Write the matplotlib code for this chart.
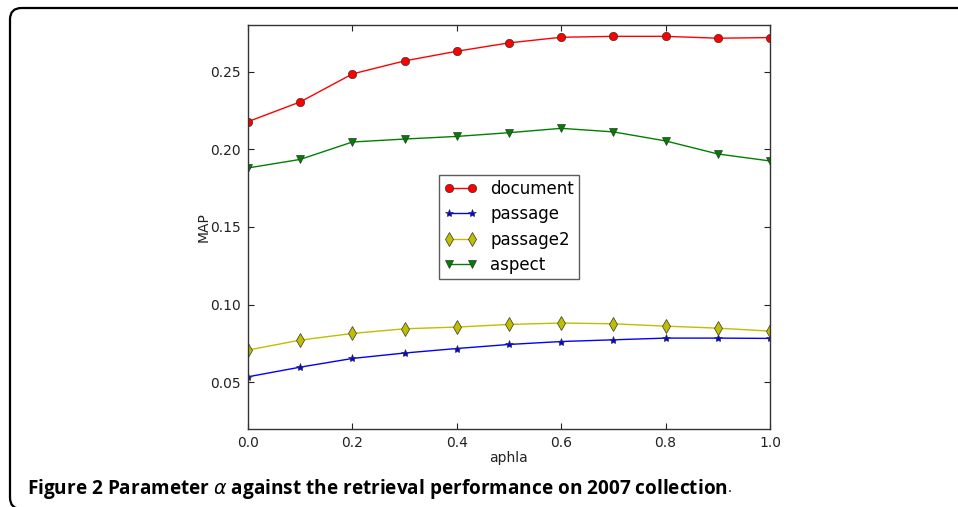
import matplotlib
matplotlib.use("Agg")
import matplotlib.pyplot as plt
from matplotlib.patches import FancyBboxPatch

alpha = [0.0, 0.1, 0.2, 0.3, 0.4, 0.5, 0.6, 0.7, 0.8, 0.9, 1.0]
document = [0.2178, 0.2305, 0.2485, 0.2569, 0.2631, 0.2685, 0.2721, 0.2727, 0.2727, 0.2715, 0.2719]
passage = [0.0536, 0.0598, 0.0654, 0.0689, 0.0718, 0.0744, 0.0763, 0.0774, 0.0785, 0.0785, 0.0783]
passage2 = [0.0708, 0.0772, 0.0815, 0.0845, 0.0856, 0.0873, 0.0882, 0.0877, 0.0862, 0.0849, 0.0830]
aspect = [0.1880, 0.1935, 0.2047, 0.2066, 0.2083, 0.2107, 0.2135, 0.2112, 0.2054, 0.1970, 0.1925]
xticks = [0.0, 0.2, 0.4, 0.6, 0.8, 1.0]
yticks = [0.05, 0.10, 0.15, 0.20, 0.25]

W, H = 958, 507
fig = plt.figure(figsize=(W / 100, H / 100), dpi=100)

# rounded frame
frame = FancyBboxPatch((10 / W, (H - 509) / H), (975 - 10) / W, (509 - 8) / H,
                       boxstyle="round,pad=0,rounding_size=0.012",
                       transform=fig.transFigure, fill=False, ec="black", lw=1.6,
                       mutation_aspect=W / H)
fig.patches.append(frame)

ax = fig.add_axes([248 / W, 1 - 429 / H, (770 - 248) / W, (429 - 25) / H])
ms = 6
ax.plot(alpha, document, color="red", marker="o", ms=ms, mec="#333333", mew=0.5, lw=1, label="document")
ax.plot(alpha, passage, color="blue", marker="*", ms=ms, mec="#333333", mew=0.5, lw=1, label="passage")
ax.plot(alpha, passage2, color=(0.75, 0.75, 0), marker="d", ms=ms + 1, mec="#333333", mew=0.5, lw=1, label="passage2")
ax.plot(alpha, aspect, color="green", marker="v", ms=ms, mec="#333333", mew=0.5, lw=1, label="aspect")

ax.set_xlim(0.0, 1.0)
ax.set_ylim(0.02, 0.28)
ax.set_xticks(xticks)
ax.set_xticklabels([f"{v:.1f}" for v in xticks])
ax.set_yticks(yticks)
ax.set_yticklabels([f"{v:.2f}" for v in yticks])
ax.tick_params(direction="in", top=True, right=True, length=4, labelsize=10, colors="#222222", pad=5)
for s in ax.spines.values():
    s.set_color("#333333")
    s.set_linewidth(1.0)
ax.set_xlabel("aphla", fontsize=10, color="#222222", labelpad=1)
ax.set_ylabel("MAP", fontsize=10, color="#222222", labelpad=0)

leg = ax.legend(loc="center", numpoints=2, fontsize=12, fancybox=False, frameon=True,
                handlelength=2.0, borderpad=0.3, labelspacing=0.45, handletextpad=0.8)
leg.get_frame().set_edgecolor("#333333")
leg.get_frame().set_linewidth(1.0)

cap = fig.text(27 / W, 1 - 489 / H,
               r"Figure 2 Parameter $\alpha$ against the retrieval performance on 2007 collection",
               fontsize=13.7, fontweight="bold", family=["Open Sans", "DejaVu Sans"],
               va="center", ha="left", color="black")
fig.canvas.draw()
bb = cap.get_window_extent()
fig.text(bb.x1 / W, 1 - 489 / H, ".", fontsize=11, family=["Open Sans", "DejaVu Sans"],
         va="center", ha="left", color="black")

fig.savefig("out.png", dpi=100)
